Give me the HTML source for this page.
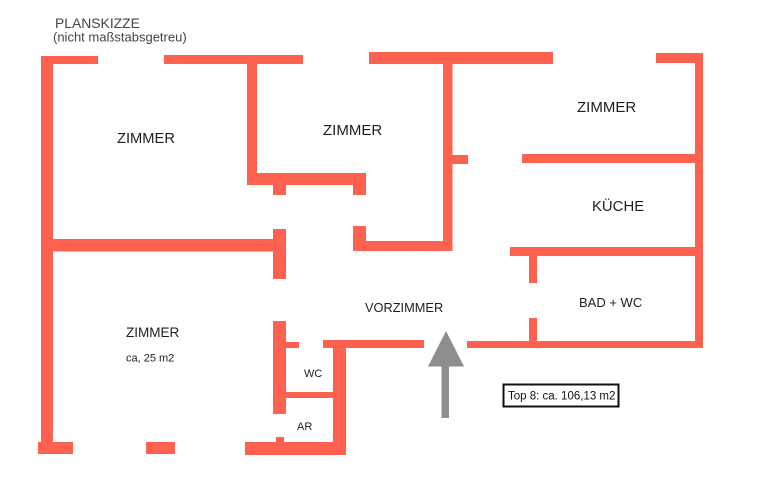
<!DOCTYPE html>
<html>
<head>
<meta charset="utf-8">
<style>
  html, body { margin: 0; padding: 0; background: #ffffff; }
  body { width: 770px; height: 482px; overflow: hidden; }
  svg { display: block; }
  text { font-family: "Liberation Sans", Arial, sans-serif; }
</style>
</head>
<body>
<svg width="770" height="482" viewBox="0 0 770 482" xmlns="http://www.w3.org/2000/svg">
  <rect x="0" y="0" width="770" height="482" fill="#ffffff"/>

  <g fill="#fe6150">
    <!-- left outer wall -->
    <rect x="41" y="56" width="12" height="398"/>
    <rect x="41" y="56" width="57" height="8"/>
    <rect x="164" y="55" width="139" height="9"/>
    <!-- room 2 (middle top) -->
    <rect x="247" y="64" width="10" height="121"/>
    <rect x="247" y="173" width="119" height="12"/>
    <rect x="273" y="185" width="13" height="10"/>
    <rect x="353" y="185" width="13" height="10"/>
    <!-- middle horizontal left -->
    <rect x="53" y="239" width="220" height="12.5"/>
    <rect x="273" y="229" width="13" height="50"/>
    <!-- right stub + horizontal -->
    <rect x="353" y="226" width="13" height="25"/>
    <rect x="366" y="241" width="86" height="10"/>
    <rect x="443" y="52" width="9.5" height="199"/>
    <rect x="369" y="52" width="184" height="12"/>
    <rect x="452" y="155" width="16" height="9"/>
    <!-- right side -->
    <rect x="656" y="53" width="47" height="10"/>
    <rect x="695" y="53" width="8" height="295"/>
    <rect x="522" y="154" width="181" height="9"/>
    <rect x="510" y="247" width="193" height="9"/>
    <rect x="529" y="256" width="8" height="27"/>
    <rect x="529" y="318" width="8" height="25"/>
    <rect x="467" y="341" width="236" height="7"/>
    <rect x="323" y="340" width="101" height="8"/>
    <!-- WC / AR -->
    <rect x="333" y="340" width="13" height="115"/>
    <rect x="273" y="321" width="13" height="93"/>
    <rect x="286" y="342" width="13" height="6"/>
    <rect x="286" y="392" width="47" height="6"/>
    <rect x="245" y="442" width="101" height="13"/>
    <rect x="276" y="437" width="8" height="5"/>
    <!-- bottom left -->
    <rect x="38" y="442" width="35" height="12"/>
    <rect x="146" y="442" width="29" height="12"/>
  </g>

  <!-- entrance arrow -->
  <g fill="#8e8e8e">
    <polygon points="446,331 428,366.5 464,366.5"/>
    <rect x="441.5" y="366" width="7.5" height="52"/>
  </g>

  <!-- area box -->
  <rect x="503.5" y="384.5" width="115" height="22" fill="#ffffff" stroke="#111111" stroke-width="2"/>
  <text x="508" y="399.5" font-size="11.5" fill="#111111">Top 8: ca. 106,13 m2</text>

  <!-- headers -->
  <text x="55" y="28" font-size="13.9" fill="#444444">PLANSKIZZE</text>
  <text x="53" y="41.5" font-size="13" fill="#444444">(nicht maßstabsgetreu)</text>

  <!-- room labels -->
  <g fill="#1e1e1e">
    <text x="117" y="143" font-size="14.7">ZIMMER</text>
    <text x="323" y="135" font-size="15">ZIMMER</text>
    <text x="577" y="112" font-size="15">ZIMMER</text>
    <text x="592" y="211" font-size="14.9">KÜCHE</text>
    <text x="579" y="307" font-size="13">BAD + WC</text>
    <text x="365" y="312" font-size="12.8">VORZIMMER</text>
    <text x="126" y="337" font-size="13.5">ZIMMER</text>
    <text x="126" y="361.5" font-size="11">ca, 25 m2</text>
    <text x="304" y="377" font-size="11">WC</text>
    <text x="297" y="430" font-size="11">AR</text>
  </g>
</svg>
</body>
</html>
